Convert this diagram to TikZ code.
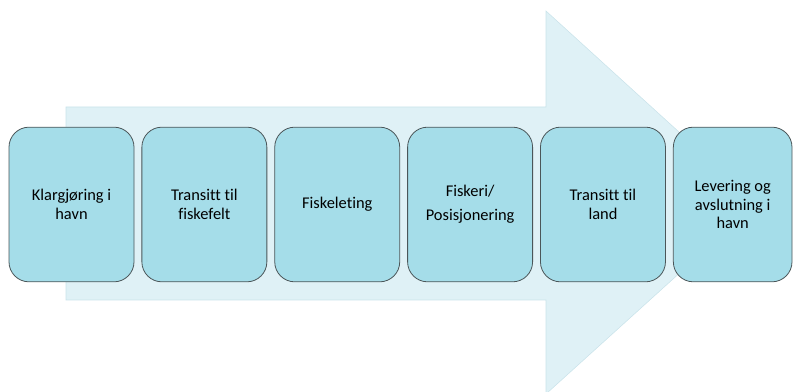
\documentclass[tikz,border=0pt]{standalone}
\usepackage{fontspec}
\setmainfont{Carlito}[Ligatures=NoCommon]
\usetikzlibrary{positioning}

\definecolor{pil}{HTML}{DFF1F6}
\definecolor{pilkant}{HTML}{C9E3EA}
\definecolor{boks}{HTML}{A5DDE9}
\definecolor{kant}{HTML}{4B5659}

\begin{document}
\begin{tikzpicture}[x=0.75pt,y=-0.75pt,node distance=5.3pt,
      every node/.style={inner sep=2pt},
      fase/.style={draw=kant,fill=boks,line width=0.6pt,rounded corners=15pt,
        minimum width=93.75pt,minimum height=116pt,align=center,
        font=\fontsize{12.3pt}{13.9pt}\selectfont}]
      \useasboundingbox(0,0)rectangle(794,392);
      \fill[pil,draw=pilkant](66,107)--(546,107)--(546,11)--(757,203)
         --(546,394)--(546,300)--(66,300)--cycle;
      \node[fase](klar)at(71.5,204.5){Klargjøring i\\havn};
      \node[fase,right=of klar](transfelt){Transitt til\\fiskefelt};
      \node[fase,right=of transfelt](leting){Fiskeleting};
      \node[fase,right=of leting](fiskeri){Fiskeri/\\[4pt]Posisjonering};
      \node[fase,right=of fiskeri](transland){Transitt til\\land};
      \node[fase,right=of transland,minimum width=89pt](levering){Levering og\\avslutning i\\havn};
    \end{tikzpicture}
\end{document}
